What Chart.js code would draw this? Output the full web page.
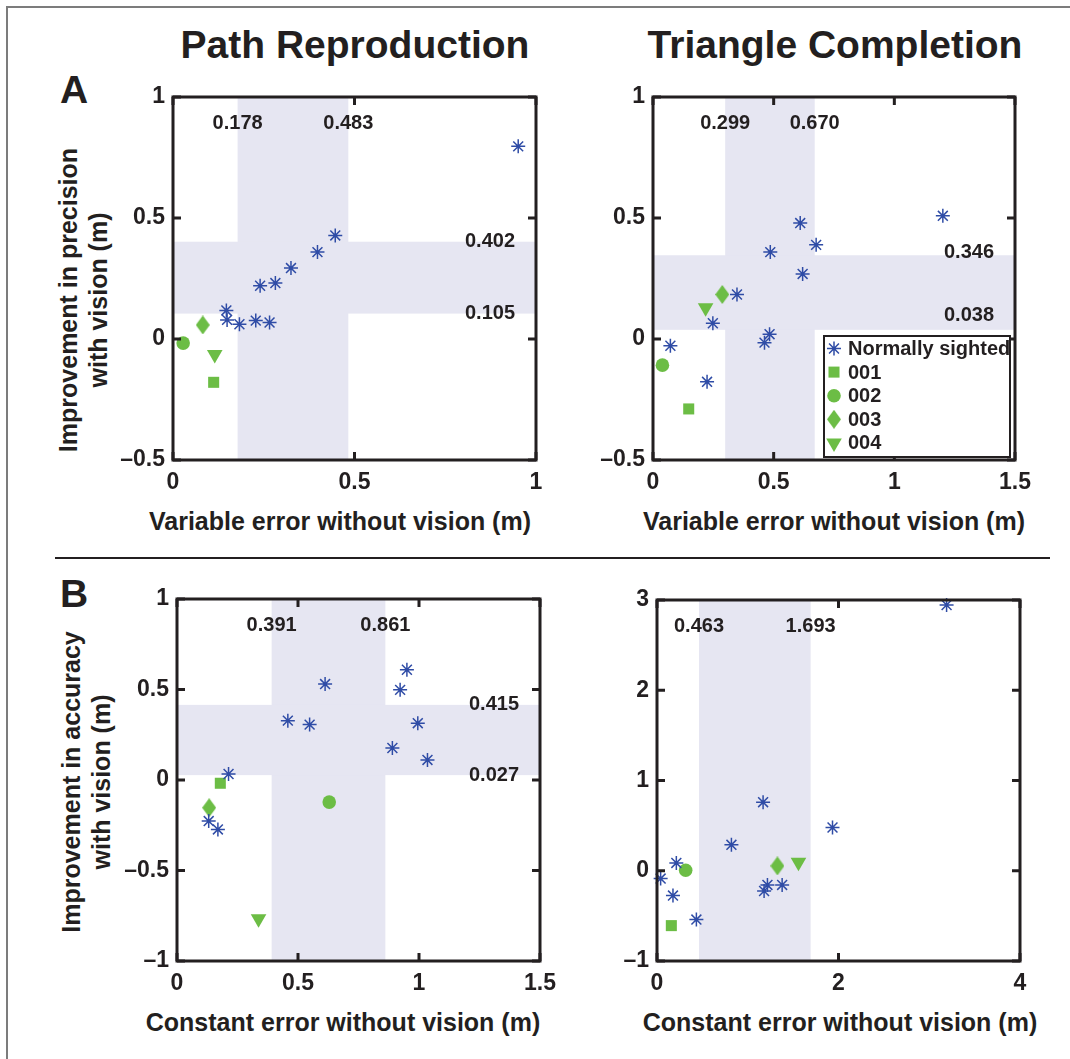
<!DOCTYPE html>
<html>
<head>
<meta charset="utf-8">
<title>Vision and path integration</title>
<script src="https://cdn.jsdelivr.net/npm/chart.js@4.4.0/dist/chart.umd.min.js"></script>
<style>
  html, body { margin: 0; padding: 0; background: #fff; }
  body {
    width: 1070px; height: 1059px; position: relative; overflow: hidden;
    font-family: "Liberation Sans", Arial, Helvetica, sans-serif; font-weight: bold; color: #231f20;
  }
  .frame { position: absolute; left: 6px; top: 6px; width: 1080px; height: 1070px;
           border-left: 2px solid #7c7c7c; border-top: 2px solid #7c7c7c; }
  .rule { position: absolute; left: 55px; top: 557px; width: 995px; height: 2px; background: #231f20; }
  .txt { position: absolute; white-space: nowrap; transform: translate(-50%, -50%); }
  .title { font-size: 39px; }
  .letter { font-size: 39px; }
  .xlab { font-size: 25px; }
  .ylab { font-size: 25px; line-height: 30px; text-align: center;
          transform: translate(-50%, -50%) rotate(-90deg); }
  canvas { position: absolute; }
</style>
</head>
<body>
<div class="frame"></div>
<div class="rule"></div>

<div class="txt title" style="left:355px; top:45px;">Path Reproduction</div>
<div class="txt title" style="left:835px; top:45px;">Triangle Completion</div>
<div class="txt letter" style="left:74px; top:90px;">A</div>
<div class="txt letter" style="left:74px; top:594px;">B</div>

<div class="txt ylab" style="left:83px; top:300px;">Improvement in precision<br>with vision (m)</div>
<div class="txt ylab" style="left:86px; top:782px;">Improvement in accuracy<br>with vision (m)</div>

<div class="txt xlab" style="left:340px; top:521px;">Variable error without vision (m)</div>
<div class="txt xlab" style="left:834px; top:521px;">Variable error without vision (m)</div>
<div class="txt xlab" style="left:343px; top:1022px;">Constant error without vision (m)</div>
<div class="txt xlab" style="left:840px; top:1022px;">Constant error without vision (m)</div>

<canvas id="pathVar"></canvas>
<canvas id="triVar"></canvas>
<canvas id="pathCon"></canvas>
<canvas id="triCon"></canvas>

<script>
// Participant groups: normally sighted controls and four visually impaired participants
const groupNames = ['Normally sighted', '001', '002', '003', '004'];

// Path reproduction: variable error without vision vs. improvement in precision
const pathVarNormal = [[0.951, 0.796], [0.447, 0.428], [0.398, 0.359], [0.325, 0.293], [0.282, 0.231],
                       [0.240, 0.220], [0.147, 0.118], [0.149, 0.079], [0.183, 0.061], [0.228, 0.076], [0.266, 0.068]];
const pathVarPatients = [[0.112, -0.179], [0.028, -0.017], [0.082, 0.058], [0.115, -0.064]];
const pathVarBandX = [0.178, 0.483];
const pathVarBandY = [0.105, 0.402];

// Triangle completion: variable error without vision vs. improvement in precision
const triVarNormal = [[1.201, 0.509], [0.610, 0.479], [0.676, 0.389], [0.486, 0.359], [0.620, 0.269],
                      [0.348, 0.184], [0.248, 0.065], [0.483, 0.020], [0.462, -0.015], [0.072, -0.028], [0.224, -0.177]];
const triVarPatients = [[0.148, -0.289], [0.039, -0.108], [0.287, 0.184], [0.218, 0.129]];
const triVarBandX = [0.299, 0.670];
const triVarBandY = [0.038, 0.346];

// Path reproduction: constant error without vision vs. improvement in accuracy
const pathConNormal = [[0.950, 0.609], [0.922, 0.498], [0.612, 0.530], [0.458, 0.328], [0.548, 0.306],
                       [0.995, 0.314], [0.890, 0.177], [1.035, 0.111], [0.213, 0.033], [0.131, -0.227], [0.169, -0.273]];
const pathConPatients = [[0.179, -0.018], [0.629, -0.122], [0.133, -0.153], [0.337, -0.767]];
const pathConBandX = [0.391, 0.861];
const pathConBandY = [0.027, 0.415];

// Triangle completion: constant error without vision vs. improvement in accuracy
const triConNormal = [[3.191, 2.945], [1.169, 0.760], [1.934, 0.479], [0.820, 0.287], [0.213, 0.087],
                      [0.040, -0.087], [0.176, -0.275], [0.434, -0.541], [1.217, -0.157], [1.180, -0.224], [1.379, -0.157]];
const triConPatients = [[0.158, -0.608], [0.316, 0.006], [1.327, 0.054], [1.559, 0.094]];
const triConBandX = [0.463, 1.693];
const triConBandY = null;

// Tick values
const ticksVarPathX = [0, 0.5, 1];
const ticksVarTriX = [0, 0.5, 1, 1.5];
const ticksVarY = [-0.5, 0, 0.5, 1];
const ticksConPathX = [0, 0.5, 1, 1.5];
const ticksConPathY = [-1, -0.5, 0, 0.5, 1];
const ticksConTriX = [0, 2, 4];
const ticksConTriY = [-1, 0, 1, 2, 3];

// ---- styling ----
const INK = '#231f20';
const BLUE = '#2f4ca6';
const GREEN = '#6cbd45';
const SHADE = '#e6e6f2';
const FONT = '"Liberation Sans", Arial, Helvetica, sans-serif';

// tall diamond marker
const diamond = document.createElement('canvas');
diamond.width = 14; diamond.height = 19;
(function () {
  const c = diamond.getContext('2d');
  c.fillStyle = GREEN;
  c.beginPath();
  c.moveTo(7, 0); c.lineTo(14, 9.5); c.lineTo(7, 19); c.lineTo(0, 9.5);
  c.closePath(); c.fill();
})();

const normalStyle = { pointStyle: 'star', radius: 7, rotation: 0, borderWidth: 1.5, color: BLUE };
const patientStyles = [
  { pointStyle: 'rect', radius: 7.8, rotation: 0 },
  { pointStyle: 'circle', radius: 6.8, rotation: 0 },
  { pointStyle: diamond, radius: 9, rotation: 0 },
  { pointStyle: 'triangle', radius: 9, rotation: 180 }
];

function fmtTick(v) {
  return v < 0 ? '\u2013' + String(Math.abs(v)) : String(v);
}

function toPoints(arr) { return arr.map(p => ({ x: p[0], y: p[1] })); }

function buildPanel(id, box, area, d) {
  const cv = document.getElementById(id);
  cv.width = box.w; cv.height = box.h;
  cv.style.left = box.left + 'px'; cv.style.top = box.top + 'px';
  cv.style.width = box.w + 'px'; cv.style.height = box.h + 'px';

  const datasets = [{
    label: groupNames[0],
    data: toPoints(d.normal),
    showLine: false,
    pointStyle: normalStyle.pointStyle,
    pointRadius: normalStyle.radius,
    pointBorderWidth: normalStyle.borderWidth,
    pointBorderColor: BLUE,
    pointBackgroundColor: BLUE,
    clip: false
  }];
  d.patients.forEach((p, i) => {
    datasets.push({
      label: groupNames[i + 1],
      data: toPoints([p]),
      showLine: false,
      pointStyle: patientStyles[i].pointStyle,
      pointRadius: patientStyles[i].radius,
      pointRotation: patientStyles[i].rotation,
      pointBorderWidth: 0,
      pointBorderColor: GREEN,
      pointBackgroundColor: GREEN,
      clip: false
    });
  });

  const tickFont = { family: FONT, size: 23, weight: 'bold' };

  const decor = {
    id: 'decor_' + id,
    beforeDatasetsDraw(chart) {
      const { ctx, chartArea: a, scales: { x, y } } = chart;
      ctx.save();
      ctx.fillStyle = SHADE;
      const x0 = x.getPixelForValue(d.bandX[0]), x1 = x.getPixelForValue(d.bandX[1]);
      ctx.fillRect(x0, a.top, x1 - x0, a.bottom - a.top);
      if (d.bandY) {
        const y0 = y.getPixelForValue(d.bandY[1]), y1 = y.getPixelForValue(d.bandY[0]);
        ctx.fillRect(a.left, y0, a.right - a.left, y1 - y0);
      }
      ctx.restore();
    },
    afterDatasetsDraw(chart) {
      const { ctx, chartArea: a, scales: { x, y } } = chart;
      ctx.save();
      // band limit labels
      ctx.fillStyle = INK;
      ctx.font = 'bold 20px ' + FONT;
      ctx.textBaseline = 'middle';
      ctx.textAlign = 'center';
      d.bandX.forEach(v => ctx.fillText(v.toFixed(3), x.getPixelForValue(v), a.top + 26));
      if (d.bandY) {
        ctx.textAlign = 'right';
        d.bandY.forEach((v, i) => {
          const lift = d.labelLift ? d.labelLift[i] : 0;
          ctx.fillText(v.toFixed(3), a.right - 21, y.getPixelForValue(v) - lift);
        });
      }
      // axes box
      ctx.strokeStyle = INK;
      ctx.lineWidth = 3;
      ctx.strokeRect(a.left, a.top, a.right - a.left, a.bottom - a.top);
      // inward tick marks on all four sides
      const tl = 8;
      ctx.beginPath();
      d.xTicks.forEach(v => {
        const px = x.getPixelForValue(v);
        ctx.moveTo(px, a.bottom); ctx.lineTo(px, a.bottom - tl);
        ctx.moveTo(px, a.top); ctx.lineTo(px, a.top + tl);
      });
      d.yTicks.forEach(v => {
        const py = y.getPixelForValue(v);
        ctx.moveTo(a.left, py); ctx.lineTo(a.left + tl, py);
        ctx.moveTo(a.right, py); ctx.lineTo(a.right - tl, py);
      });
      ctx.stroke();

      if (d.legend) {
        const L = a.right - 191, R = a.right - 5, B = a.bottom - 3, T = B - 121;
        ctx.fillStyle = '#fff';
        ctx.fillRect(L, T, R - L, B - T);
        ctx.lineWidth = 2;
        ctx.strokeStyle = INK;
        ctx.strokeRect(L, T, R - L, B - T);
        const styles = [normalStyle].concat(patientStyles);
        ctx.font = 'bold 20px ' + FONT;
        ctx.textAlign = 'left';
        ctx.textBaseline = 'middle';
        styles.forEach((s, i) => {
          const cy = T + 12.5 + i * 23.6;
          const isNormal = i === 0;
          ctx.fillStyle = isNormal ? BLUE : GREEN;
          ctx.strokeStyle = isNormal ? BLUE : GREEN;
          ctx.lineWidth = isNormal ? s.borderWidth : 0;
          Chart.helpers.drawPoint(ctx, {
            pointStyle: s.pointStyle, radius: s.radius, rotation: s.rotation,
            borderWidth: isNormal ? s.borderWidth : 0
          }, L + 10, cy);
          ctx.fillStyle = INK;
          ctx.fillText(groupNames[i], L + 24, cy + 1);
        });
      }
      ctx.restore();
    }
  };

  return new Chart(cv, {
    type: 'scatter',
    data: { datasets },
    options: {
      responsive: false,
      animation: false,
      events: [],
      layout: {
        padding: {
          left: 0,
          top: area.top - box.top,
          right: box.left + box.w - area.right,
          bottom: 0
        }
      },
      plugins: { legend: { display: false }, tooltip: { enabled: false } },
      scales: {
        x: {
          type: 'linear', min: d.xTicks[0], max: d.xTicks[d.xTicks.length - 1],
          grid: { display: false, drawTicks: false },
          border: { display: false },
          ticks: { font: tickFont, color: INK, padding: 9, maxRotation: 0, minRotation: 0,
                   autoSkip: false, callback: fmtTick },
          afterBuildTicks: s => { s.ticks = d.xTicks.map(v => ({ value: v })); },
          afterFit: s => { s.height = box.top + box.h - area.bottom; }
        },
        y: {
          type: 'linear', min: d.yTicks[0], max: d.yTicks[d.yTicks.length - 1],
          grid: { display: false, drawTicks: false },
          border: { display: false },
          ticks: { font: tickFont, color: INK, padding: 8, autoSkip: false, callback: fmtTick },
          afterBuildTicks: s => { s.ticks = d.yTicks.map(v => ({ value: v })); },
          afterFit: s => { s.width = area.left - box.left; }
        }
      }
    },
    plugins: [decor]
  });
}

buildPanel('pathVar',
  { left: 100, top: 70, w: 470, h: 430 },
  { left: 173, top: 97, right: 536, bottom: 460 },
  { normal: pathVarNormal, patients: pathVarPatients, bandX: pathVarBandX, bandY: pathVarBandY,
    xTicks: ticksVarPathX, yTicks: ticksVarY, legend: false });

buildPanel('triVar',
  { left: 580, top: 70, w: 470, h: 430 },
  { left: 653, top: 97, right: 1015, bottom: 460 },
  { normal: triVarNormal, patients: triVarPatients, bandX: triVarBandX, bandY: triVarBandY,
    xTicks: ticksVarTriX, yTicks: ticksVarY, legend: true, labelLift: [14, 3] });

buildPanel('pathCon',
  { left: 100, top: 572, w: 470, h: 430 },
  { left: 177, top: 599, right: 540, bottom: 961 },
  { normal: pathConNormal, patients: pathConPatients, bandX: pathConBandX, bandY: pathConBandY,
    xTicks: ticksConPathX, yTicks: ticksConPathY, legend: false });

buildPanel('triCon',
  { left: 580, top: 572, w: 480, h: 430 },
  { left: 657, top: 600, right: 1020, bottom: 961 },
  { normal: triConNormal, patients: triConPatients, bandX: triConBandX, bandY: triConBandY,
    xTicks: ticksConTriX, yTicks: ticksConTriY, legend: false });
</script>
</body>
</html>
